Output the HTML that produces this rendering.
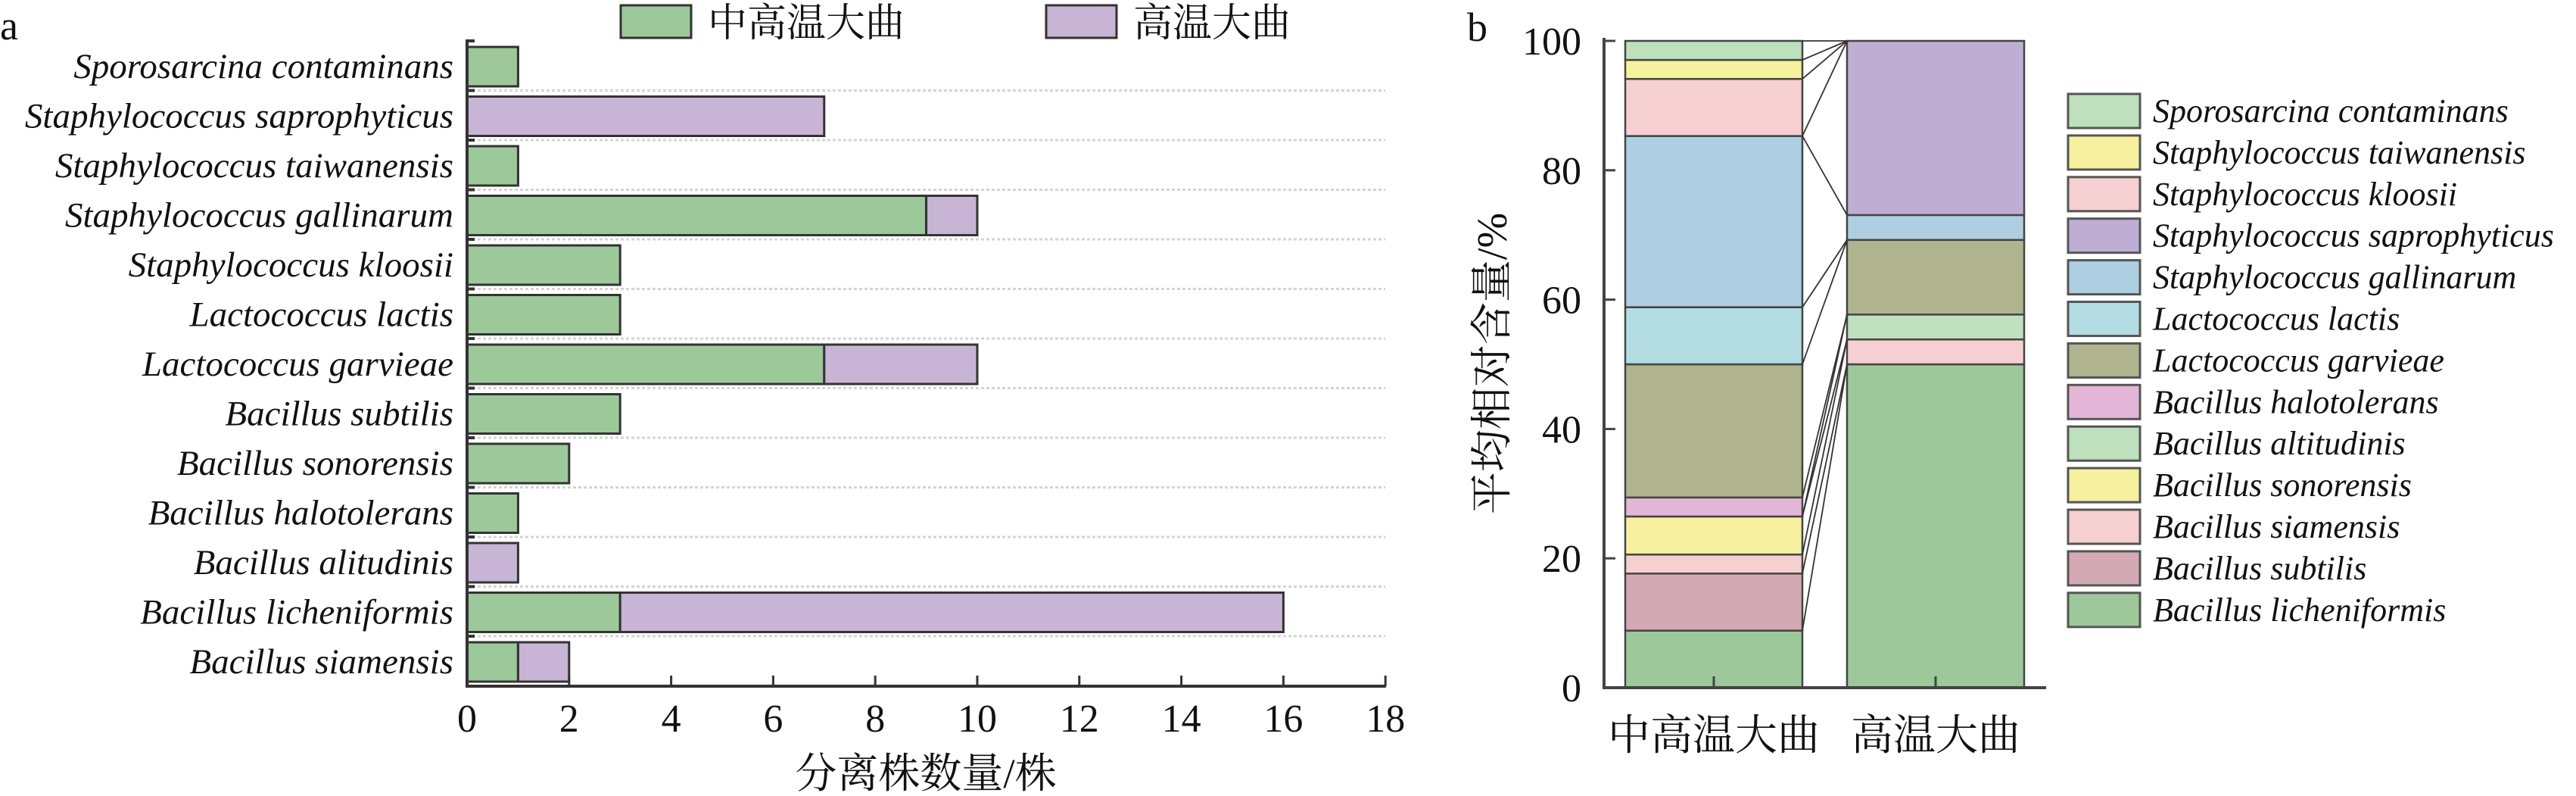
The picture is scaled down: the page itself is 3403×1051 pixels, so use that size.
<!DOCTYPE html>
<html><head><meta charset="utf-8"><style>
html,body{margin:0;padding:0;background:#fff;}
svg{display:block;}
</style></head><body>
<svg width="3403" height="1051" viewBox="0 0 3403 1051" xmlns="http://www.w3.org/2000/svg" font-family="'Liberation Serif','DejaVu Serif','Noto Serif CJK SC',serif">
<text x="0" y="52" font-size="54" fill="#111">a</text>
<rect x="820" y="7" width="93" height="43" fill="#9dc89a" stroke="#333" stroke-width="3"/>
<text x="935" y="48" font-size="52" fill="#111" font-family="'Liberation Serif','Noto Serif CJK SC',serif">中高温大曲</text>
<rect x="1382" y="7" width="93" height="43" fill="#c8b4d4" stroke="#333" stroke-width="3"/>
<text x="1497" y="48" font-size="52" fill="#111" font-family="'Liberation Serif','Noto Serif CJK SC',serif">高温大曲</text>
<g id="pa"></g>
<line x1="617" y1="52" x2="617" y2="907" stroke="#333" stroke-width="4"/>
<line x1="615" y1="906" x2="1831" y2="906" stroke="#333" stroke-width="4"/>
<text x="1223" y="1040" font-size="55" fill="#111" text-anchor="middle" font-family="'Liberation Serif','Noto Serif CJK SC',serif">分离株数量/株</text>
<g id="pb"></g>
<text x="1938" y="54" font-size="54" fill="#111">b</text>
<text transform="translate(1990,480) rotate(-90)" font-size="56" fill="#111" text-anchor="middle" font-family="'Liberation Serif','Noto Serif CJK SC',serif">平均相对含量/%</text>
<text x="2264" y="990" font-size="56" fill="#111" text-anchor="middle" font-family="'Liberation Serif','Noto Serif CJK SC',serif">中高温大曲</text>
<text x="2557" y="990" font-size="56" fill="#111" text-anchor="middle" font-family="'Liberation Serif','Noto Serif CJK SC',serif">高温大曲</text>
</svg>
<script>
var NS="http://www.w3.org/2000/svg";
function el(p,t,a,txt){var e=document.createElementNS(NS,t);for(var k in a)e.setAttribute(k,a[k]);if(txt!=null)e.textContent=txt;p.appendChild(e);return e;}
var LAB={"font-family":"'Liberation Serif','DejaVu Serif',serif","font-style":"italic","font-size":"47",fill:"#111"};
function merge(a,b){var o={};for(var k in a)o[k]=a[k];for(var k in b)o[k]=b[k];return o;}
var pa=document.getElementById("pa");
var rows=[["Sporosarcina contaminans",1,0],["Staphylococcus saprophyticus",0,7],["Staphylococcus taiwanensis",1,0],["Staphylococcus gallinarum",9,1],["Staphylococcus kloosii",3,0],["Lactococcus lactis",3,0],["Lactococcus garvieae",7,3],["Bacillus subtilis",3,0],["Bacillus sonorensis",2,0],["Bacillus halotolerans",1,0],["Bacillus alitudinis",0,1],["Bacillus licheniformis",3,13],["Bacillus siamensis",1,1]];
var X0=617,U=67.4;
rows.forEach(function(r,i){var top=62+i*65.5;
 if(i>0)el(pa,"line",{x1:X0,y1:top-8,x2:1830,y2:top-8,stroke:"#d4d4d4","stroke-width":3,"stroke-dasharray":"4,3"});
 el(pa,"line",{x1:X0,y1:top-8,x2:X0+10,y2:top-8,stroke:"#333","stroke-width":4});
 if(r[1])el(pa,"rect",{x:X0,y:top,width:r[1]*U,height:52,fill:"#9dc89a",stroke:"#333","stroke-width":3});
 if(r[2])el(pa,"rect",{x:X0+r[1]*U,y:top,width:r[2]*U,height:52,fill:"#c8b4d4",stroke:"#333","stroke-width":3});
 el(pa,"text",merge(LAB,{x:599,y:top+41,"text-anchor":"end"}),r[0]);
});
for(var v=0;v<=18;v+=2){var x=X0+v*U;el(pa,"line",{x1:x,y1:906,x2:x,y2:892,stroke:"#333","stroke-width":3});
 el(pa,"text",{x:x,y:966,"text-anchor":"middle","font-size":"52",fill:"#111"},String(v));}
var pb=document.getElementById("pb");
var Y0=908,S=8.54;function Y(v){return Y0-v*S;}
var tax=[["Bacillus licheniformis","#9dc89a",3,13],["Bacillus subtilis","#d3aab4",3,0],["Bacillus siamensis","#f6cfd0",1,1],["Bacillus sonorensis","#f5f19e",2,0],["Bacillus altitudinis","#bfe0bd",0,1],["Bacillus halotolerans","#e4b6d7",1,0],["Lactococcus garvieae","#afb48f",7,3],["Lactococcus lactis","#b3dde2",3,0],["Staphylococcus gallinarum","#aecfe2",9,1],["Staphylococcus saprophyticus","#bfaed4",0,7],["Staphylococcus kloosii","#f6cfd0",3,0],["Staphylococcus taiwanensis","#f5f19e",1,0],["Sporosarcina contaminans","#bfe0bd",1,0]];
var c1=[0],c2=[0];
tax.forEach(function(t,i){c1.push(c1[i]+t[2]*100/34);c2.push(c2[i]+t[3]*100/26);});
tax.forEach(function(t,i){
 if(t[2])el(pb,"rect",{x:2147,y:Y(c1[i+1]),width:234,height:(c1[i+1]-c1[i])*S,fill:t[1],stroke:"#444","stroke-width":2.5});
 if(t[3])el(pb,"rect",{x:2440,y:Y(c2[i+1]),width:234,height:(c2[i+1]-c2[i])*S,fill:t[1],stroke:"#444","stroke-width":2.5});
});
for(var i=1;i<c1.length;i++)el(pb,"line",{x1:2381,y1:Y(c1[i]),x2:2440,y2:Y(c2[i]),stroke:"#333","stroke-width":1.8});
el(pb,"line",{x1:2119,y1:50,x2:2119,y2:910,stroke:"#444","stroke-width":4});
el(pb,"line",{x1:2117,y1:908,x2:2703,y2:908,stroke:"#444","stroke-width":4});
for(var v=0;v<=100;v+=20){el(pb,"line",{x1:2119,y1:Y(v),x2:2134,y2:Y(v),stroke:"#444","stroke-width":3});
 el(pb,"text",{x:2089,y:Y(v)+18,"text-anchor":"end","font-size":"52",fill:"#111"},String(v));}
[2264,2557].forEach(function(x){el(pb,"line",{x1:x,y1:908,x2:x,y2:893,stroke:"#444","stroke-width":3});});
var order=["Sporosarcina contaminans","Staphylococcus taiwanensis","Staphylococcus kloosii","Staphylococcus saprophyticus","Staphylococcus gallinarum","Lactococcus lactis","Lactococcus garvieae","Bacillus halotolerans","Bacillus altitudinis","Bacillus sonorensis","Bacillus siamensis","Bacillus subtilis","Bacillus licheniformis"];
order.forEach(function(n,i){var t=tax.filter(function(q){return q[0]==n;})[0];var y=124+i*54.9;
 el(pb,"rect",{x:2732,y:y,width:95,height:45,fill:t[1],stroke:"#555","stroke-width":3});
 el(pb,"text",merge(LAB,{x:2844,y:y+37,"font-size":"44"}),n);});
</script>
</body></html>
